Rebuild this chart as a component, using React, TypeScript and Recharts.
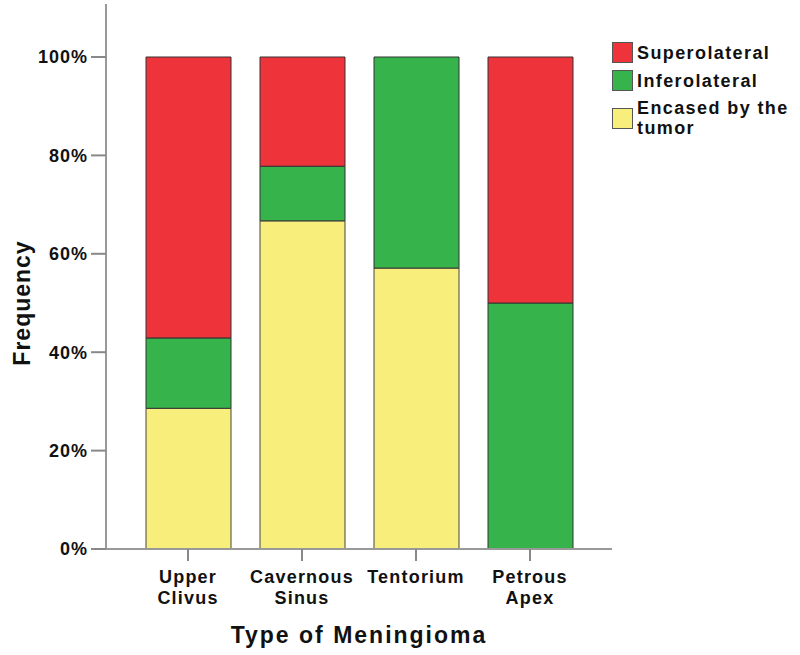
import React from 'react';
import { BarChart, Bar, XAxis, YAxis, Label } from 'recharts';

// Proportions per meningioma type (stacked to 100%)
const categories = ['Upper\nClivus', 'Cavernous\nSinus', 'Tentorium', 'Petrous\nApex'];
const encased = [0.286, 0.667, 0.571, 0];
const inferolateral = [0.143, 0.111, 0.429, 0.5];
const superolateral = [0.571, 0.222, 0, 0.5];
const yTicks = [0, 0.2, 0.4, 0.6, 0.8, 1];

const RED = '#EE333A';
const GREEN = '#36B34A';
const YELLOW = '#F7EE7B';

const data = categories.map((name, i) => ({
  name,
  encased: encased[i],
  inferolateral: inferolateral[i],
  superolateral: superolateral[i],
}));

const legendItems = [
  { label: 'Superolateral', color: RED },
  { label: 'Inferolateral', color: GREEN },
  { label: 'Encased by the\ntumor', color: YELLOW },
];

const font = '"Liberation Sans", Arial, sans-serif';

const CategoryTick = (props: any) => {
  const { x, y, payload } = props;
  const lines = String(payload.value).split('\n');
  return (
    <text
      x={x}
      y={y}
      textAnchor="middle"
      fontFamily={font}
      fontWeight="bold"
      fontSize={18}
      letterSpacing={1.2}
      fill="#111"
    >
      {lines.map((l, i) => (
        <tspan key={i} x={x} dy={i === 0 ? 20 : 21}>
          {l}
        </tspan>
      ))}
    </text>
  );
};

const LegendBox = () => (
  <div
    style={{
      position: 'absolute',
      left: 612,
      top: 42,
      fontFamily: font,
      fontWeight: 'bold',
      fontSize: 18,
      letterSpacing: 1.4,
      color: '#111',
    }}
  >
    {legendItems.map((item) => {
      const lines = item.label.split('\n');
      return (
        <div key={item.label} style={{ display: 'flex', alignItems: 'center', marginBottom: 7 }}>
          <div
            style={{
              width: 19,
              height: 19,
              background: item.color,
              border: '1px solid #555',
              marginRight: 4,
              flexShrink: 0,
            }}
          />
          <div style={{ lineHeight: '20px' }}>
            {lines.map((l) => (
              <div key={l}>{l}</div>
            ))}
          </div>
        </div>
      );
    })}
  </div>
);

export default function App() {
  return (
    <div style={{ position: 'absolute', left: 0, top: 0, width: 800, height: 655, background: '#fff' }}>
      <BarChart width={800} height={655} data={data} margin={{ top: 4, right: 188, left: 0, bottom: 0 }}>
        <XAxis
          dataKey="name"
          height={106}
          padding={{ left: 25, right: 25 }}
          axisLine={{ stroke: '#999', strokeWidth: 2 }}
          tickLine={{ stroke: '#888', strokeWidth: 2 }}
          tickSize={12}
          tickMargin={2}
          tick={<CategoryTick />}
          interval={0}
        >
          <Label
            content={() => (
              <text
                x={359}
                y={643}
                textAnchor="middle"
                fontFamily={font}
                fontWeight="bold"
                fontSize={23}
                letterSpacing={2}
                fill="#111"
              >
                Type of Meningioma
              </text>
            )}
          />
        </XAxis>
        <YAxis
          width={106}
          domain={[0, 1]}
          ticks={yTicks}
          padding={{ top: 53 }}
          tickFormatter={(v: number) => `${Math.round(v * 100)}%`}
          axisLine={{ stroke: '#999', strokeWidth: 2 }}
          tickLine={{ stroke: '#888', strokeWidth: 2 }}
          tickSize={15}
          tickMargin={3}
          tick={{ fontFamily: font, fontWeight: 'bold', fontSize: 18, fill: '#111', letterSpacing: 1 }}
        >
          <Label
            content={() => (
              <text
                x={22}
                y={303}
                transform="rotate(-90 22 303)"
                textAnchor="middle"
                dominantBaseline="central"
                fontFamily={font}
                fontWeight="bold"
                fontSize={23}
                letterSpacing={1}
                fill="#111"
              >
                Frequency
              </text>
            )}
          />
        </YAxis>
        <Bar dataKey="encased" stackId="a" fill={YELLOW} stroke="#444" strokeWidth={1} barSize={85} isAnimationActive={false} />
        <Bar dataKey="inferolateral" stackId="a" fill={GREEN} stroke="#333" strokeWidth={1} barSize={85} isAnimationActive={false} />
        <Bar dataKey="superolateral" stackId="a" fill={RED} stroke="#333" strokeWidth={1} barSize={85} isAnimationActive={false} />
      </BarChart>
      <LegendBox />
    </div>
  );
}
